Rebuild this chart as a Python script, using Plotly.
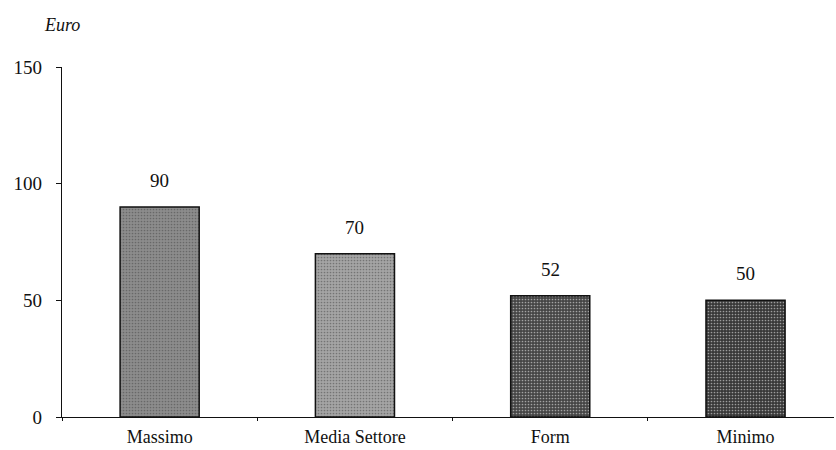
import plotly.graph_objects as go

categories = ["Massimo", "Media Settore", "Form", "Minimo"]
values = [90, 70, 52, 50]
bar_colors = ["#8c8c8c", "#a4a4a4", "#454545", "#383838"]
dot_colors = ["#dadada", "#e4e4e4", "#9a9a9a", "#8a8a8a"]
y_ticks = [0, 50, 100, 150]

font_family = "Liberation Serif, serif"
ink = "#111111"

fig = go.Figure(
    go.Bar(
        x=categories,
        y=values,
        width=0.405,
        marker=dict(
            color=bar_colors,
            line=dict(color=ink, width=1.5),
            pattern=dict(shape=".", fgcolor=dot_colors, size=3, solidity=0.25,
                         fillmode="overlay"),
        ),
        hoverinfo="skip",
    )
)

# value labels sitting above each bar
for cat, val in zip(categories, values):
    fig.add_annotation(
        x=cat, y=val, text=str(val), showarrow=False,
        yanchor="bottom", yshift=14,
        font=dict(family=font_family, size=19, color=ink),
    )

fig.add_annotation(
    text="<i>Euro</i>", xref="paper", yref="paper", x=-0.026, y=1.12,
    xanchor="left", yanchor="middle", showarrow=False,
    font=dict(family=font_family, size=18, color=ink),
)

fig.update_layout(
    width=836,
    height=450,
    margin=dict(l=62, r=2, t=67, b=33, autoexpand=False),
    paper_bgcolor="white",
    plot_bgcolor="white",
    showlegend=False,
    font=dict(family=font_family, size=19, color=ink),
)

fig.update_xaxes(
    range=[-0.5, 3.453], automargin=False,
    showline=True, linecolor=ink, linewidth=1.2,
    ticks="outside", tickson="boundaries", ticklen=3, tickcolor=ink,
    showgrid=False, tickfont=dict(family=font_family, size=18),
    ticklabelstandoff=3,
)
fig.update_yaxes(
    range=[0, 150], tickvals=y_ticks, automargin=False, showline=True,
    linecolor=ink, linewidth=1.2, ticks="outside", ticklen=5, tickcolor=ink,
    showgrid=False, zeroline=False, tickfont=dict(family=font_family, size=19),
    ticklabelstandoff=10,
)

fig.write_html("out.html")
